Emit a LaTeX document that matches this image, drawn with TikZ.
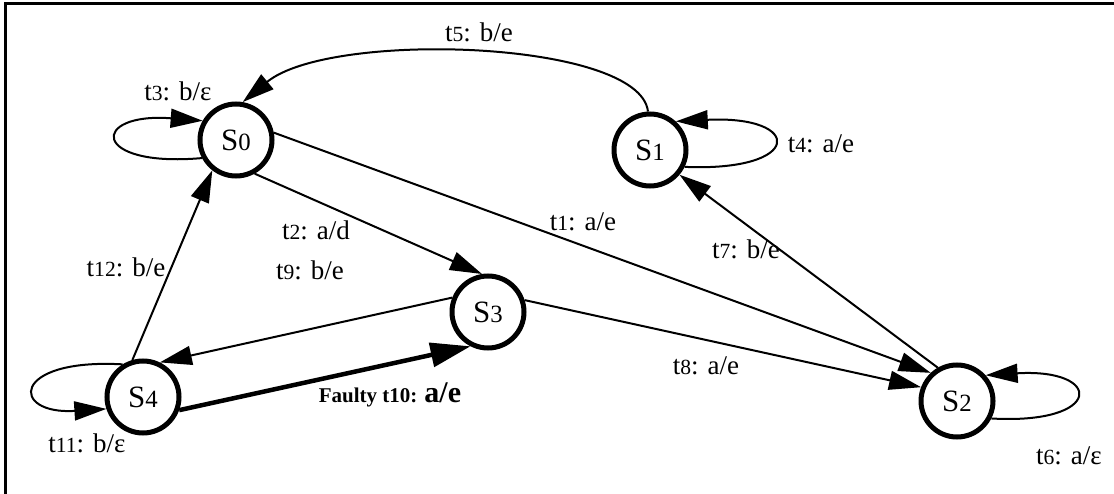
\documentclass[tikz,border=0pt]{standalone}
\usepackage{fontspec}
\setmainfont{Liberation Serif}
\usetikzlibrary{arrows.meta}
\newcommand\dg[1]{\scalebox{0.8}{#1}}
\begin{document}
\begin{tikzpicture}[x=1pt,y=-1pt,
  state/.style={circle,draw,line width=5pt,minimum size=72pt,inner sep=0pt,
    font=\fontsize{31}{31}\selectfont},
  tr/.style={line width=2pt,-{Triangle[length=32pt,width=19pt]}},
  faulty/.style={line width=4.5pt,-{Triangle[length=40pt,width=24pt]}},
  lbl/.style={font=\fontsize{27}{27}\selectfont,inner sep=0pt}]
\useasboundingbox (0,0) rectangle (1114,494);
\draw[line width=3pt] (5.5,494) -- (5.5,3.5) -- (1114,3.5);

\node[state] (s0) at (236,140) {S\dg{0}};
\node[state] (s1) at (650,150) {S\dg{1}};
\node[state] (s2) at (957,401) {S\dg{2}};
\node[state] (s3) at (488,312) {S\dg{3}};
\node[state] (s4) at (143,397) {S\dg{4}};

% transitions
\draw[tr] (s0.11) -- (s2.133);
\draw[tr] (s0.-61) -- (s3.99);
\draw[tr] (s0.208) .. controls (90,168) and (90,112) .. (s0.150);
\draw[tr] (s1.-26) .. controls (804,172) and (804,115) .. (s1.48);
\draw[tr] (s1.93) .. controls (640,40) and (330,30) .. (s0.80);
\draw[tr] (s2.-27) .. controls (1104,425) and (1104,368) .. (s2.42);
\draw[tr] (s2.120) -- (s1.-40);
\draw[tr] (s3.18) -- (s2.159);
\draw[tr] (s3.158) -- (s4.64);
\draw[faulty] (s4.-20) -- (s3.243);
\draw[tr] (s4.122) .. controls (10,358) and (10,415) .. (s4.198);
\draw[tr] (s4.106) -- (s0.232);

% labels
\node[lbl] (l1) at (583,222) {t\dg{1}: a/e};
\node[lbl] (l2) at (316,230) {t\dg{2}: a/d};
\node[lbl] (l3) at (178,91) {t\dg{3}: b/ε};
\node[lbl] (l4) at (821,144) {t\dg{4}: a/e};
\node[lbl] (l5) at (479,32) {t\dg{5}: b/e};
\node[lbl] (l6) at (1069,456) {t\dg{6}: a/ε};
\node[lbl] (l7) at (746,249) {t\dg{7}: b/e};
\node[lbl] (l8) at (706,366) {t\dg{8}: a/e};
\node[lbl] (l9) at (310,270) {t\dg{9}: b/e};
\node[lbl] (l11) at (87,443) {t\dg{11}: b/ε};
\node[lbl] (l12) at (126,267) {t\dg{12}: b/e};
\node[inner sep=0pt] (l10) at (390,395)
  {{\bfseries\fontsize{21}{21}\selectfont Faulty t10: }{\bfseries\fontsize{30}{30}\selectfont a/e}};
\end{tikzpicture}
\end{document}
